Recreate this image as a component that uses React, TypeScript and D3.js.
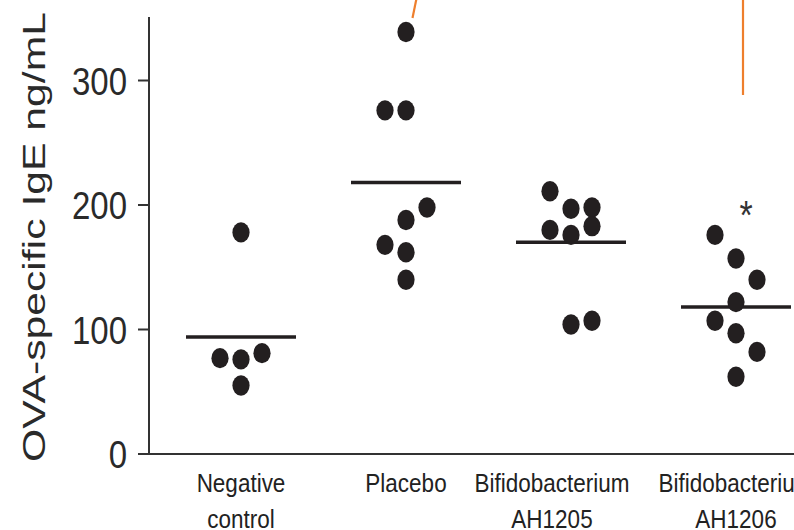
import React from 'react';
import * as d3 from 'd3';

// ---- data ----
const categories = ['Negative control', 'Placebo', 'Bifidobacterium AH1205', 'Bifidobacterium AH1206'];
const labelLine1 = ['Negative', 'Placebo', 'Bifidobacterium', 'Bifidobacterium'];
const labelLine2 = ['control', '', 'AH1205', 'AH1206'];

const negValues = [178, 77, 76, 81, 55];
const negCols = [0, -1, 0, 1, 0];
const placeboValues = [339, 276, 276, 198, 188, 168, 162, 140];
const placeboCols = [0, -1, 0, 1, 0, -1, 0, 0];
const ah1205Values = [211, 197, 198, 183, 180, 176, 104, 107];
const ah1205Cols = [-1, 0, 1, 1, -1, 0, 0, 1];
const ah1206Values = [176, 157, 140, 122, 107, 97, 82, 62];
const ah1206Cols = [-1, 0, 1, 0, -1, 0, 1, 0];
const means = [94, 218, 170, 118];
const yTicks = [0, 100, 200, 300];
const yTitle = 'OVA-specific IgE ng/mL';

const groups = [
  { values: negValues, cols: negCols },
  { values: placeboValues, cols: placeboCols },
  { values: ah1205Values, cols: ah1205Cols },
  { values: ah1206Values, cols: ah1206Cols },
];

// ---- layout ----
const W = 794;
const H = 530;
const axisX = 149;
const STRETCH = 1.18;
const FONT = '"Liberation Sans", Arial, Helvetica, sans-serif';
const INK = '#231f20';
const ORANGE = '#ee7f2d';

export default function App() {
  const y = d3.scaleLinear().domain([0, 300]).range([454, 80.5]);
  const x = d3.scalePoint<string>().domain(categories).range([241, 736]);
  const colStep = 21;
  const meanHalf = 55;
  const labelNudge = [0, 0, -19, 0];

  return (
    <svg
      width={W}
      height={H}
      viewBox={`0 0 ${W} ${H}`}
      style={{ position: 'absolute', left: 0, top: 0, background: '#fff' }}
    >
      <rect x={0} y={0} width={W} height={H} fill="#fff" />

      {/* axes */}
      <line x1={axisX} x2={axisX} y1={17} y2={y(0)} stroke="#333" strokeWidth={2} />
      <line x1={138} x2={W} y1={y(0)} y2={y(0)} stroke="#333" strokeWidth={2} />
      {yTicks.map((t) => (
        <g key={t}>
          <line x1={138} x2={axisX} y1={y(t)} y2={y(t)} stroke="#333" strokeWidth={2} />
          <text
            transform={`translate(127,${y(t) + 14}) scale(1,${STRETCH})`}
            textAnchor="end"
            fontFamily={FONT}
            fontSize={33}
            fill="#2a2a2a"
          >
            {t}
          </text>
        </g>
      ))}

      {/* y title */}
      <text
        transform="translate(45,237) rotate(-90)"
        textAnchor="middle"
        fontFamily={FONT}
        fontSize={31}
        fill="#2a2a2a"
        textLength={450}
        lengthAdjust="spacingAndGlyphs"
      >
        {yTitle}
      </text>

      {/* category labels */}
      {categories.map((c, i) => (
        <g key={c}>
          <text
            transform={`translate(${(x(c) as number) + labelNudge[i]},492) scale(1,${STRETCH})`}
            textAnchor="middle"
            fontFamily={FONT}
            fontSize={22.5}
            fill="#222"
          >
            {labelLine1[i]}
          </text>
          {labelLine2[i] && (
            <text
              transform={`translate(${(x(c) as number) + labelNudge[i]},528) scale(1,${STRETCH})`}
              textAnchor="middle"
              fontFamily={FONT}
              fontSize={22.5}
              fill="#222"
            >
              {labelLine2[i]}
            </text>
          )}
        </g>
      ))}

      {/* means */}
      {categories.map((c, i) => (
        <line
          key={'m' + c}
          x1={(x(c) as number) - meanHalf}
          x2={(x(c) as number) + meanHalf}
          y1={y(means[i])}
          y2={y(means[i])}
          stroke={INK}
          strokeWidth={3.5}
        />
      ))}

      {/* dots */}
      {categories.map((c, i) =>
        groups[i].values.map((v, j) => (
          <ellipse
            key={c + j}
            cx={(x(c) as number) + groups[i].cols[j] * colStep}
            cy={y(v)}
            rx={8.6}
            ry={10.2}
            fill={INK}
          />
        ))
      )}

      {/* significance asterisk */}
      <text
        transform={`translate(${x(categories[3])! + 10},229) scale(1,${STRETCH})`}
        textAnchor="middle"
        fontFamily={FONT}
        fontSize={34}
        fill="#333"
      >
        *
      </text>

      {/* orange annotation fragments */}
      <line x1={412.5} y1={18} x2={417} y2={-4} stroke={ORANGE} strokeWidth={2.2} />
      <line x1={743} y1={-2} x2={743} y2={95} stroke={ORANGE} strokeWidth={2.2} />
    </svg>
  );
}
